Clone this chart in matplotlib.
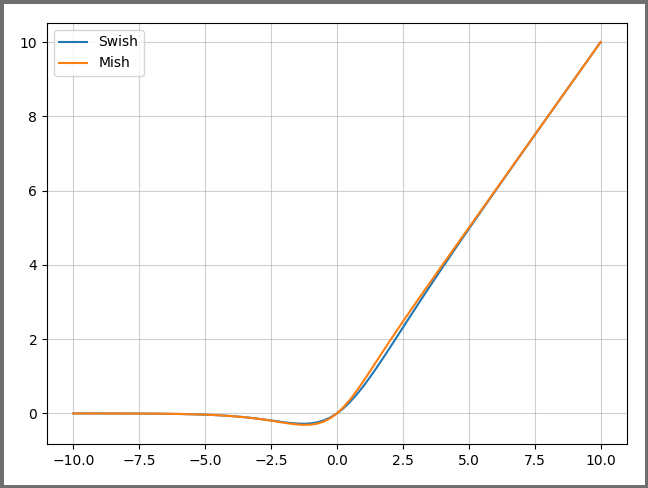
import matplotlib
matplotlib.use("Agg")
import matplotlib.pyplot as plt
from matplotlib.patches import Rectangle

# sample points
x_vals = [-10, -9, -8, -7, -6, -5, -4.5, -4,
          -3.75, -3.5, -3.25, -3, -2.75, -2.5, -2.25, -2,
          -1.75, -1.5, -1.25, -1, -0.75, -0.5, -0.25, 0,
          0.25, 0.5, 0.75, 1, 1.25, 1.5, 1.75, 2,
          2.25, 2.5, 2.75, 3, 3.25, 3.5, 3.75, 4,
          4.5, 5, 5.5, 6, 7, 8, 9, 10]

swish_vals = [-0.0005, -0.0011, -0.0027, -0.0064, -0.0148, -0.0335, -0.0496, -0.0719,
              -0.0862, -0.1026, -0.1213, -0.1423, -0.1652, -0.1897, -0.2145, -0.2384,
              -0.2591, -0.2736, -0.2784, -0.2689, -0.2406, -0.1888, -0.1095, 0.0,
              0.1405, 0.3112, 0.5094, 0.7311, 0.9716, 1.2264, 1.4909, 1.7616,
              2.0355, 2.3104, 2.5848, 2.8577, 3.1287, 3.3974, 3.6638, 3.9281,
              4.4506, 4.9665, 5.4776, 5.9852, 6.9936, 7.9973, 8.9989, 9.9995]

mish_vals = [-0.0005, -0.0011, -0.0027, -0.0064, -0.0149, -0.0336, -0.0499, -0.0726,
             -0.0872, -0.1041, -0.1236, -0.1457, -0.1702, -0.1968, -0.2247, -0.2525,
             -0.2780, -0.2981, -0.3084, -0.3034, -0.2765, -0.2207, -0.1299, 0.0,
             0.1696, 0.3753, 0.6100, 0.8651, 1.1319, 1.4034, 1.6749, 1.9440,
             2.2095, 2.4714, 2.7302, 2.9865, 3.2410, 3.4940, 3.7460, 3.9974,
             4.4989, 4.9996, 5.4998, 5.9999, 7.0, 8.0, 9.0, 10.0]

fig = plt.figure(figsize=(6.48, 4.88), dpi=100)
ax = fig.add_axes([0.0725, 0.0902, 0.895, 0.8627])

ax.plot(x_vals, swish_vals, label="Swish")
ax.plot(x_vals, mish_vals, label="Mish")
ax.legend(loc="upper left")
ax.grid(alpha=0.6)

# grey screenshot frame
fig.patches.append(Rectangle((0, 0), 1, 1, transform=fig.transFigure,
                             fill=False, edgecolor="#6e6e6e", linewidth=5))

fig.savefig("out.png", dpi=100)
